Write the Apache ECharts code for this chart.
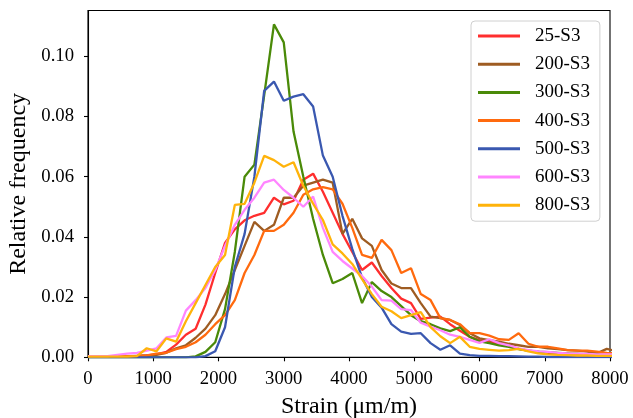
<!DOCTYPE html>
<html>
<head>
<meta charset="utf-8">
<script src="https://cdn.jsdelivr.net/npm/echarts@6/dist/echarts.min.js"></script>
<style>html,body{margin:0;padding:0;background:#fff}#c{width:633px;height:418px}</style>
</head>
<body>
<div id="c"></div>
<script>
// Strain bin positions (µm/m)
var strain = [0,150,300,450,600,750,900,1050,1200,1350,1500,1650,1800,1950,2100,2250,2400,2550,2700,2850,3000,3150,3300,3450,3600,3750,3900,4050,4200,4350,4500,4650,4800,4950,5100,5250,5400,5550,5700,5850,6000,6150,6300,6450,6600,6750,6900,7050,7200,7350,7500,7650,7800,7950,8100];

var s25 = [0.0002,0.0002,0.0002,0.0003,0.0003,0.0004,0.0006,0.0010,0.0018,0.0042,
           0.0075,0.0095,0.0175,0.028,0.038,0.0425,0.0455,0.047,0.048,0.053,
           0.0508,0.052,0.059,0.061,0.055,0.048,0.041,0.035,0.029,0.0315,
           0.027,0.023,0.0195,0.018,0.0128,0.0132,0.0135,0.011,0.0088,0.0068,
           0.0057,0.0052,0.0045,0.0038,0.0028,0.0022,0.0018,0.0014,0.0012,0.0011,
           0.0010,0.0009,0.0008,0.0008,0.0007];
var s200 = [0.0002,0.0002,0.0003,0.0003,0.0004,0.0005,0.0006,0.0008,0.0015,0.003,
            0.004,0.0065,0.0095,0.014,0.021,0.029,0.037,0.045,0.042,0.044,
            0.053,0.053,0.057,0.058,0.059,0.058,0.041,0.046,0.0395,0.037,
            0.029,0.0245,0.023,0.023,0.018,0.0135,0.013,0.0124,0.0107,0.008,
            0.0063,0.0057,0.0052,0.0045,0.004,0.0035,0.0035,0.003,0.0027,0.0024,
            0.0022,0.0019,0.0013,0.0028,0.002];
var s300 = [0,0,0,0,0,0,0,0,0,0,
            0,0.0003,0.0018,0.005,0.016,0.035,0.060,0.064,0.087,0.1106,
            0.1046,0.075,0.060,0.046,0.034,0.0246,0.026,0.028,0.018,0.025,
            0.022,0.020,0.017,0.014,0.012,0.011,0.0096,0.0087,0.010,0.0068,
            0.0053,0.0047,0.004,0.0035,0.0027,0.0022,0.0019,0.0017,0.0015,0.0013,
            0.0012,0.001,0.001,0.0008,0.0008];
var s400 = [0.0002,0.0002,0.0002,0.0003,0.0003,0.0004,0.0006,0.0012,0.0015,0.0027,
            0.0035,0.005,0.0075,0.011,0.014,0.019,0.028,0.034,0.042,0.042,
            0.044,0.048,0.054,0.0558,0.0565,0.0558,0.051,0.043,0.034,0.033,
            0.039,0.0356,0.028,0.0296,0.021,0.019,0.013,0.0124,0.011,0.008,
            0.008,0.0072,0.006,0.0058,0.008,0.0045,0.0035,0.0035,0.003,0.0024,
            0.0022,0.0022,0.0019,0.0015,0.0012];
var s500 = [0,0,0,0,0,0,0,0,0,0,
            0,0,0.0004,0.002,0.010,0.030,0.041,0.060,0.0885,0.0916,
            0.0852,0.0866,0.0874,0.0833,0.067,0.060,0.047,0.036,0.0265,0.020,
            0.0165,0.011,0.0085,0.0078,0.008,0.0047,0.0025,0.004,0.0012,0.0007,
            0.0005,0.0005,0.0004,0.0004,0.0003,0.0002,0.0002,0.0001,0.0001,0.0001,
            0.0001,0.0001,0.0001,0.0001,0.0001];
var s600 = [0.0004,0.0004,0.0004,0.0008,0.0012,0.0015,0.0022,0.003,0.0066,0.0071,
            0.0155,0.019,0.023,0.029,0.037,0.044,0.049,0.053,0.058,0.059,
            0.0556,0.053,0.050,0.0534,0.043,0.035,0.032,0.0295,0.027,0.0235,
            0.019,0.0188,0.016,0.0157,0.0115,0.0102,0.009,0.0075,0.0068,0.0058,
            0.0048,0.006,0.0047,0.004,0.003,0.0024,0.002,0.0018,0.0015,0.0013,
            0.0012,0.0011,0.001,0.001,0.001];
var s800 = [0.0002,0.0002,0.0002,0.0002,0.0002,0.0004,0.003,0.002,0.0063,0.0052,
            0.012,0.018,0.024,0.030,0.034,0.0506,0.051,0.058,0.0669,0.0655,
            0.0633,0.0648,0.057,0.051,0.0456,0.0375,0.0345,0.031,0.026,0.021,
            0.0168,0.0153,0.013,0.014,0.015,0.010,0.007,0.0047,0.0068,0.0035,
            0.0028,0.0025,0.0022,0.0024,0.0028,0.002,0.0013,0.001,0.0008,0.0007,
            0.0006,0.0006,0.0005,0.0005,0.0005];

var seriesNames = ['25-S3','200-S3','300-S3','400-S3','500-S3','600-S3','800-S3'];
var seriesValues = [s25, s200, s300, s400, s500, s600, s800];
var seriesColors = ['#FF2E2E','#9E5C22','#4A8A08','#FF6A0E','#3A58B0','#FF85FF','#FFB30A'];

var xTicks = [0,1000,2000,3000,4000,5000,6000,7000,8000];
var yTicks = [0,0.02,0.04,0.06,0.08,0.10];

var FONT = 'Liberation Serif';

function pairs(vals){ return strain.map(function(x,i){ return [x, vals[i]]; }); }

var chart = echarts.init(document.getElementById('c'), null, {renderer:'canvas'});
chart.setOption({
  animation: false,
  backgroundColor: '#fff',
  grid: {left: 88, right: 23, top: 10.5, bottom: 60.7, containLabel: false, outerBoundsMode: 'none',
         show: true, borderColor: '#000', borderWidth: 1.1, backgroundColor: 'transparent'},
  xAxis: {
    type: 'value', min: 0, max: 8000, interval: 1000,
    name: 'Strain (\u03bcm/m)', nameLocation: 'middle', nameGap: 37,
    nameTextStyle: {fontFamily: FONT, fontSize: 24, color: '#000'},
    axisLine: {show: true, onZero: false, lineStyle: {color: '#000', width: 1.1}},
    axisTick: {show: true, inside: false, length: 4, lineStyle: {color: '#000', width: 1.1}, customValues: xTicks},
    axisLabel: {fontFamily: FONT, fontSize: 18.7, color: '#000', margin: 12, customValues: xTicks,
      formatter: function(v){ return String(Math.round(v)); }},
    splitLine: {show: false}
  },
  yAxis: {
    type: 'value', min: 0, max: 0.1152,
    name: 'Relative frequency', nameLocation: 'middle', nameGap: 54,
    nameTextStyle: {fontFamily: FONT, fontSize: 24, color: '#000'},
    axisLine: {show: true, lineStyle: {color: '#000', width: 1.1}},
    axisTick: {show: true, inside: false, length: 4, lineStyle: {color: '#000', width: 1.1}, customValues: yTicks},
    axisLabel: {fontFamily: FONT, fontSize: 18.7, color: '#000', margin: 14, customValues: yTicks,
      formatter: function(v){ return v.toFixed(2); }},
    splitLine: {show: false}
  },
  legend: {
    orient: 'vertical', left: 471, top: 21,
    data: seriesNames,
    icon: 'rect', itemWidth: 42, itemHeight: 3, itemGap: 8.2,
    padding: [5, 10, 6, 7],
    borderColor: '#d0d0d0', borderWidth: 1, borderRadius: 4,
    backgroundColor: 'rgba(255,255,255,0.8)',
    textStyle: {fontFamily: FONT, fontSize: 19, color: '#000', lineHeight: 20, padding: [0,0,0,10]}
  },
  series: seriesNames.map(function(n, i){
    return {
      name: n, type: 'line', data: pairs(seriesValues[i]),
      showSymbol: false, symbol: 'none', clip: true,
      lineStyle: {color: seriesColors[i], width: 2.3},
      itemStyle: {color: seriesColors[i]},
      emphasis: {disabled: true}
    };
  })
});
</script>
</body>
</html>
